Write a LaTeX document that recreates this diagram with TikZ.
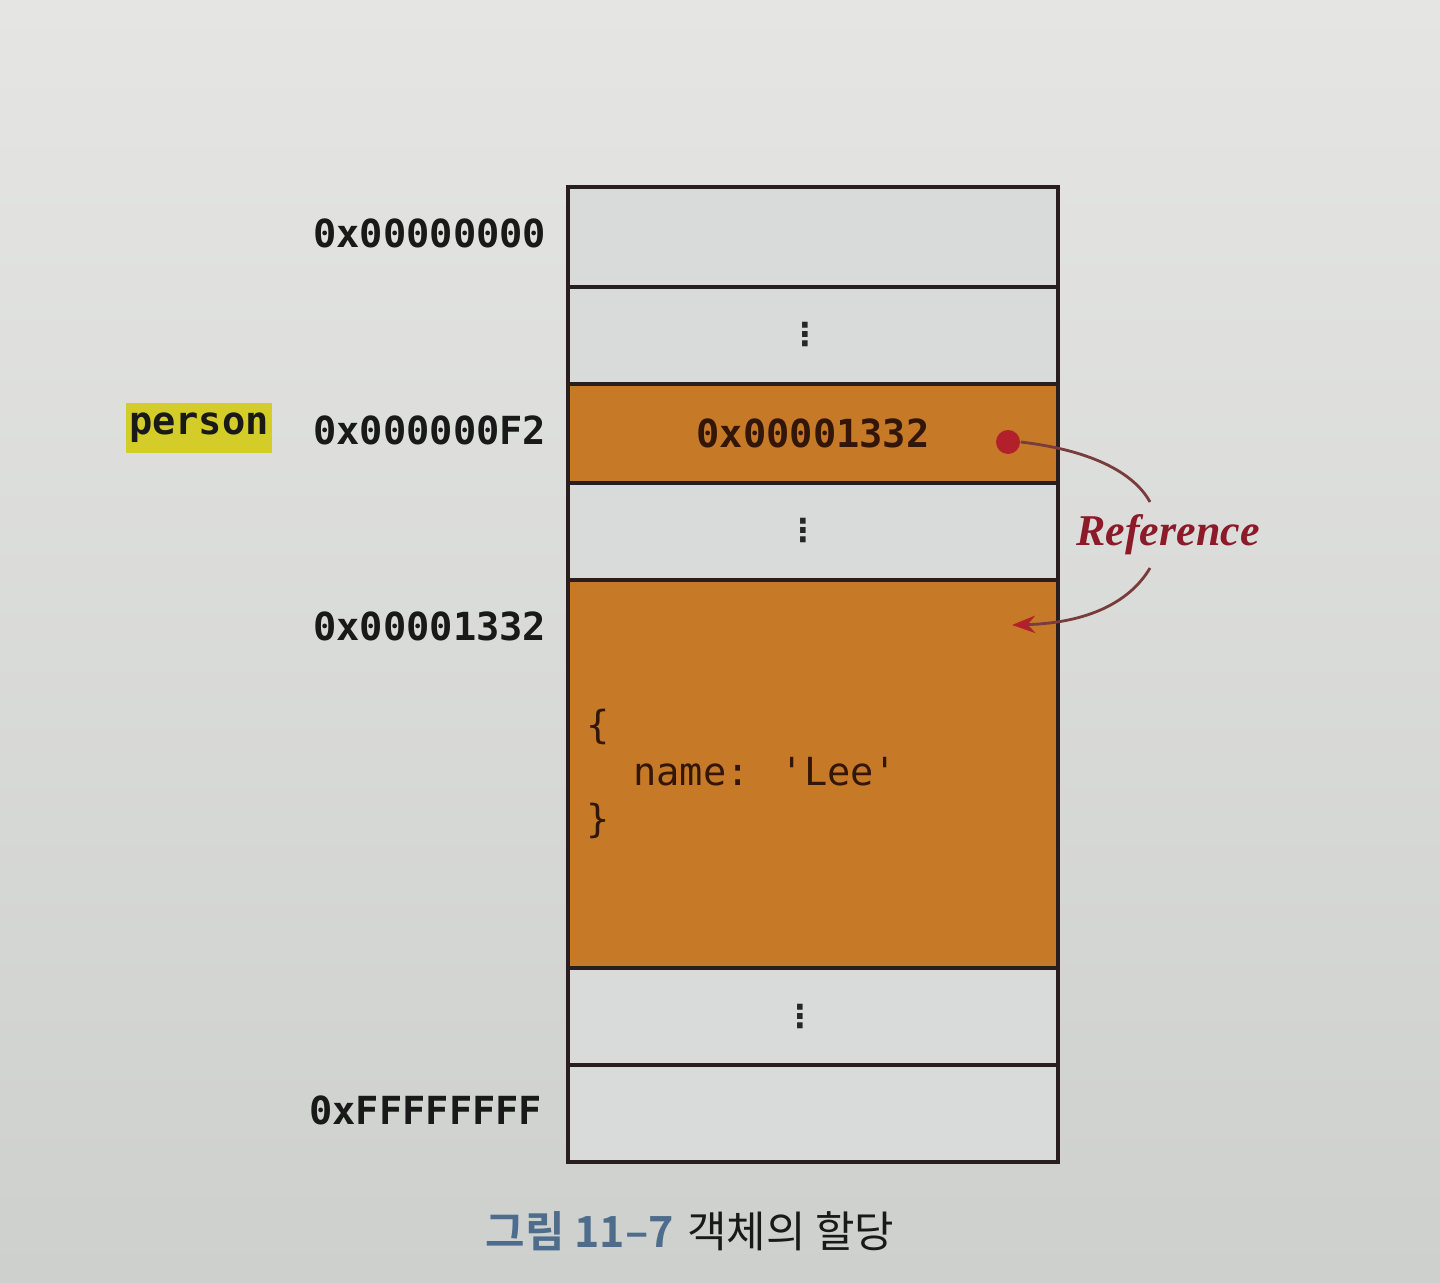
\documentclass[tikz,border=0pt]{standalone}
\usepackage{fontspec}
\setmainfont{DejaVu Sans}
\newfontfamily\addrfont{DejaVu Sans Mono}
\newfontfamily\dotsfont{DejaVu Sans}
\newfontfamily\reffont{Liberation Serif}
\newfontfamily\cjk{Noto Sans CJK KR}
\newfontfamily\cjkb{Noto Sans CJK KR}[BoldFont={Noto Sans CJK KR Bold}]
\usetikzlibrary{arrows.meta}
\definecolor{bgtop}{RGB}{229,230,228}
\definecolor{bgbot}{RGB}{206,208,206}
\definecolor{cellgray}{RGB}{216,219,217}
\definecolor{orangecell}{RGB}{198,122,40}
\definecolor{edgecol}{RGB}{40,30,30}
\definecolor{refred}{RGB}{140,26,40}
\definecolor{dotred}{RGB}{178,32,44}
\definecolor{arcol}{RGB}{120,60,60}
\definecolor{capblue}{RGB}{78,108,140}
\definecolor{hiyellow}{RGB}{212,204,40}
\definecolor{browntext}{RGB}{50,22,8}
\begin{document}
\begin{tikzpicture}[x=0.01cm,y=-0.01cm,
  cell/.style={draw=edgecol, line width=1pt, fill=cellgray, minimum width=4.9cm, inner sep=0pt},
  ocell/.style={cell, fill=orangecell},
  addr/.style={anchor=east, font=\addrfont\bfseries\fontsize{11}{13}\selectfont, text=black!90, inner sep=0pt},
  vdots/.style={font=\dotsfont\bfseries\fontsize{9}{9}\selectfont, text=black!85, inner sep=0pt},
  refline/.style={draw=arcol, line width=0.8pt},
]
\useasboundingbox (0,0) rectangle (1440,1283);
\shade[top color=bgtop, bottom color=bgbot] (0,0) rectangle (1440,1283);

% memory cells
\node[cell, minimum height=1.00cm] (c1) at (813,237) {};
\node[cell, minimum height=0.97cm] (c2) at (813,335.5) {};
\node[ocell, minimum height=0.99cm] (c3) at (813,433.5) {};
\node[cell, minimum height=0.97cm] (c4) at (813,531.5) {};
\node[ocell, minimum height=3.88cm] (c5) at (813,774) {};
\node[cell, minimum height=0.97cm] (c6) at (813,1016.5) {};
\node[cell, minimum height=0.97cm] (c7) at (813,1113.5) {};

% vertical dots
\node[vdots] (d2) at (805,335) {⋮};
\node[vdots] (d4) at (803,531) {⋮};
\node[vdots] (d6) at (800,1016) {⋮};

% cell contents
\node[font=\addrfont\bfseries\fontsize{11}{13}\selectfont, text=browntext, inner sep=0pt] (val) at (813,433) {0x00001332};
\node[anchor=west, align=left, font=\addrfont\fontsize{11}{13.4}\selectfont, text=browntext, inner sep=0pt] (obj) at (586,774)
  {\{\\\hphantom{nn}name: 'Lee'\\\}};

% addresses
\node[addr] (a0) at (547,233) {0x00000000};
\node[addr] (aF2) at (547,430) {0x000000F2};
\node[addr] (a1332) at (547,626) {0x00001332};
\node[addr] (aFF) at (543,1110) {0xFFFFFFFF};

% variable name
\node[fill=hiyellow, font=\addrfont\bfseries\fontsize{11}{13}\selectfont, text=black!90, inner xsep=1pt, inner ysep=3pt] (person) at (199,428) {person};

% reference arrow
\node[circle, fill=dotred, minimum size=0.24cm, inner sep=0pt] (dot) at (1008,442) {};
\node[font=\reffont\bfseries\itshape\fontsize{12.5}{14}\selectfont, text=refred, inner sep=0pt] (ref) at (1168,535) {Reference};
\coordinate (u1) at (1150,502);
\coordinate (u2) at (1150,568);
\coordinate (tgt) at (1012,625);
\draw[refline] (dot.east) .. controls (1105,452) and (1138,480) .. (u1);
\draw[refline, -{Stealth[length=9pt,width=8pt]}, arrows={-{Stealth[color=dotred]}}] (u2) .. controls (1130,602) and (1088,623) .. (tgt);

% caption
\node[font=\fontsize{12.2}{14}\selectfont, inner sep=0pt] (cap) at (690,1231)
  {{\cjkb\bfseries\color{capblue}그림 11–7} {\cjk\color{black!90}객체의 할당}};
\end{tikzpicture}
\end{document}
